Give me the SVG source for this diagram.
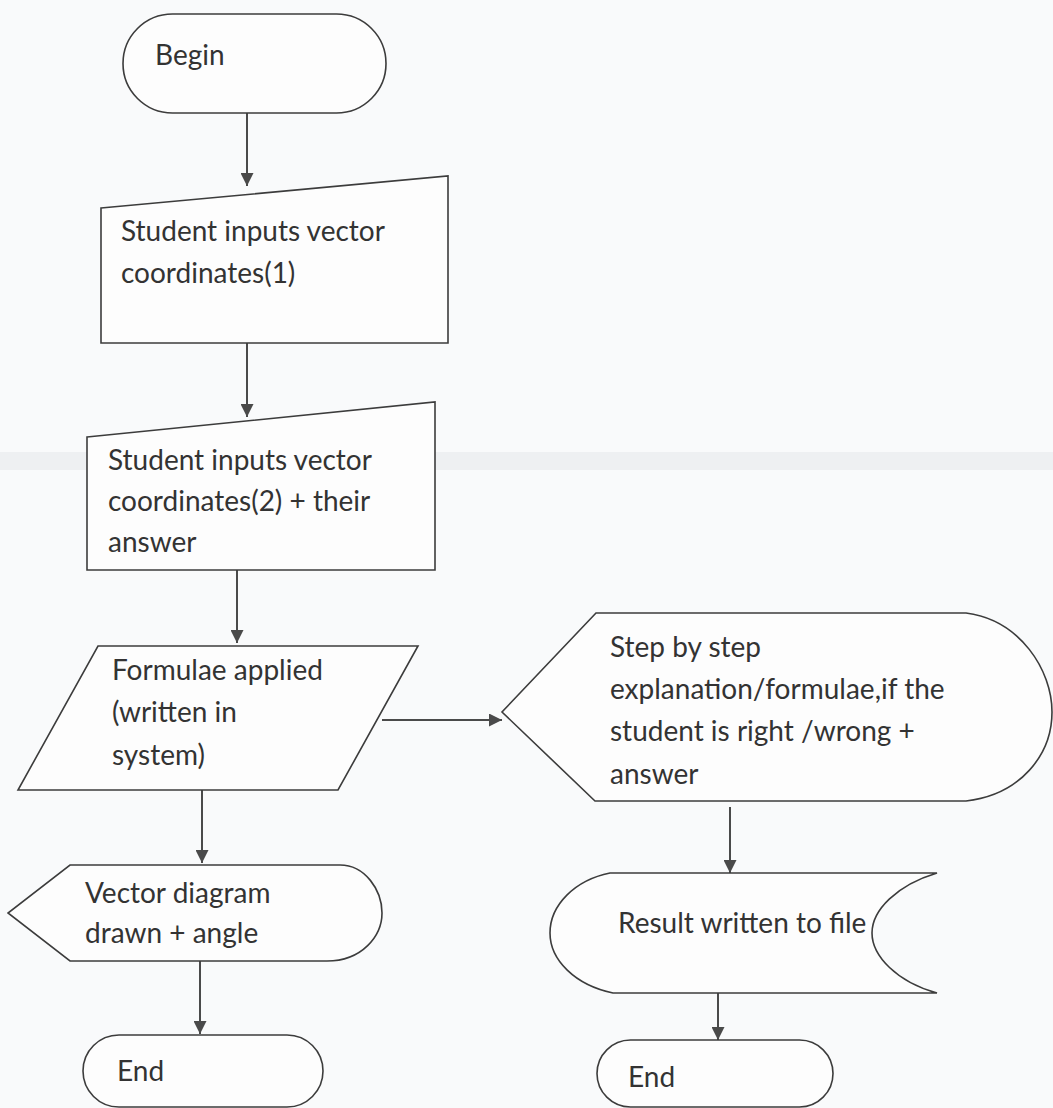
<svg xmlns="http://www.w3.org/2000/svg" width="1053" height="1108" viewBox="0 0 1053 1108">
  <defs>
    <marker id="arrow" viewBox="0 0 13 13" refX="13" refY="6.5" markerWidth="13" markerHeight="13" markerUnits="userSpaceOnUse" orient="auto">
      <path d="M0,0 L13,6.5 L0,13 Z" fill="#4a4a4a"/>
    </marker>
  </defs>
  <style>
    .shape { fill: #fdfdfd; stroke: #3c3c3c; stroke-width: 1.6; }
    .conn { stroke: #4a4a4a; stroke-width: 2; fill: none; marker-end: url(#arrow); }
    .lbl { font-family: Lato, "Open Sans", "Liberation Sans", sans-serif; font-size: 28px; fill: #333333; }
  </style>
  <rect x="0" y="0" width="1053" height="1108" fill="#f9fafb"/>
  <rect x="0" y="452" width="1053" height="18" fill="#eef0f2"/>

  <g id="connectors">
    <line class="conn" x1="247" y1="113" x2="247" y2="186"/>
    <line class="conn" x1="247" y1="343" x2="247" y2="417"/>
    <line class="conn" x1="237" y1="570" x2="237" y2="643"/>
    <line class="conn" x1="202" y1="790" x2="202" y2="863"/>
    <line class="conn" x1="200" y1="961" x2="200" y2="1034"/>
    <line class="conn" x1="382" y1="720" x2="502" y2="720"/>
    <line class="conn" x1="730" y1="807" x2="730" y2="873"/>
    <line class="conn" x1="718" y1="968" x2="718" y2="1040"/>
  </g>

  <g id="begin">
    <rect class="shape" x="123" y="14" width="263" height="99" rx="49.5" ry="49.5"/>
    <text class="lbl" x="155" y="65">Begin</text>
  </g>

  <g id="input1">
    <polygon class="shape" points="101,208 448,176 448,343 101,343"/>
    <text class="lbl" x="121" y="241">Student inputs vector</text>
    <text class="lbl" x="121" y="283">coordinates(1)</text>
  </g>

  <g id="input2">
    <polygon class="shape" points="87,437 435,402 435,570 87,570"/>
    <text class="lbl" x="108" y="470">Student inputs vector</text>
    <text class="lbl" x="108" y="511">coordinates(2) + their</text>
    <text class="lbl" x="108" y="552">answer</text>
  </g>

  <g id="formulae">
    <polygon class="shape" points="98,646 418,646 338,790 18,790"/>
    <text class="lbl" x="112" y="680">Formulae applied</text>
    <text class="lbl" x="112" y="722">(written in</text>
    <text class="lbl" x="112" y="765">system)</text>
  </g>

  <g id="explanation">
    <path class="shape" d="M596,613 L966,613 C1020,620 1052,670 1052,712 C1052,755 1020,795 966,801 L595,801 L502,712 Z"/>
    <text class="lbl" x="610" y="657">Step by step</text>
    <text class="lbl" x="610" y="699">explanation/formulae,if the</text>
    <text class="lbl" x="610" y="741">student is right /wrong +</text>
    <text class="lbl" x="610" y="784">answer</text>
  </g>

  <g id="vector-diagram">
    <path class="shape" d="M70,865 L340,865 C365,865 382,890 382,913 C382,936 362,961 327,961 L70,961 L8,913 Z"/>
    <text class="lbl" x="85" y="903">Vector diagram</text>
    <text class="lbl" x="85" y="943">drawn + angle</text>
  </g>

  <g id="result">
    <path class="shape" d="M610,873 L937,873 C897,885 872,910 872,933 C872,956 897,982 937,993 L613,993 C575,985 550,960 550,933 C550,905 575,880 610,873 Z"/>
    <text class="lbl" x="618" y="933">Result written to file</text>
  </g>

  <g id="end1">
    <rect class="shape" x="83" y="1035" width="240" height="72" rx="36" ry="36"/>
    <text class="lbl" x="117" y="1081">End</text>
  </g>

  <g id="end2">
    <rect class="shape" x="597" y="1040" width="236" height="67" rx="33.5" ry="33.5"/>
    <text class="lbl" x="628" y="1087">End</text>
  </g>
</svg>
